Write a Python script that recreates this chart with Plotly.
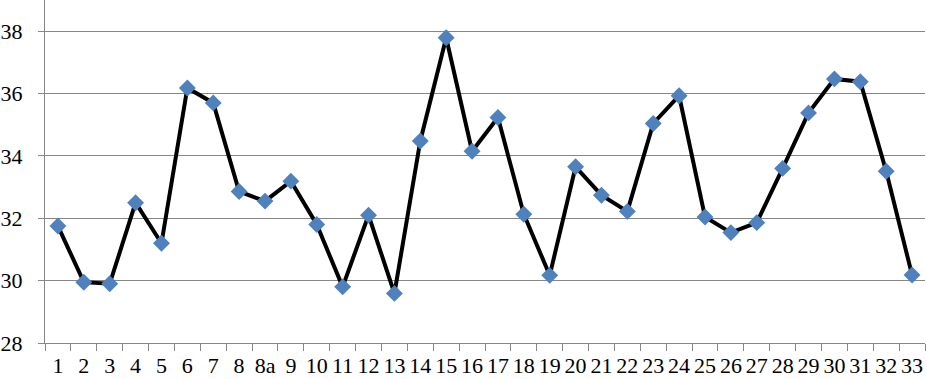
import plotly.graph_objects as go

categories = ["1", "2", "3", "4", "5", "6", "7", "8", "8a", "9", "10", "11", "12", "13", "14", "15", "16",
              "17", "18", "19", "20", "21", "22", "23", "24", "25", "26", "27", "28", "29", "30", "31", "32", "33"]
values = [31.75, 29.95, 29.9, 32.5, 31.2, 36.18, 35.7, 32.86, 32.55, 33.19, 31.8, 29.8, 32.1, 29.59, 34.48,
          37.79, 34.15, 35.23, 32.13, 30.17, 33.65, 32.74, 32.22, 35.04, 35.93, 32.04, 31.54, 31.86, 33.6,
          35.38, 36.47, 36.38, 33.51, 30.18]
y_ticks = [28, 30, 32, 34, 36, 38]

fig = go.Figure(go.Scatter(
    x=categories, y=values, mode="lines+markers",
    line=dict(color="black", width=4),
    marker=dict(symbol="diamond", size=13, color="#4F81BD", line=dict(width=0)),
    cliponaxis=False,
))

FAMILY = "Times New Roman, Liberation Serif, serif"
font = dict(family=FAMILY, size=22, color="black")
fig.update_layout(
    width=927, height=379,
    margin=dict(l=45, r=2, t=0, b=36),
    paper_bgcolor="white", plot_bgcolor="white",
    showlegend=False, font=font,
)
fig.update_xaxes(
    type="category", tickmode="array", tickvals=categories, ticktext=categories,
    tickson="boundaries", ticks="outside", ticklen=7, tickcolor="#868686",
    showline=True, linecolor="#868686", linewidth=1, showgrid=False, automargin=False,
    tickfont=font, tickangle=0, ticklabelstandoff=3, range=[-0.5, len(categories) - 0.5],
)
fig.update_yaxes(
    range=[28, 39], tickvals=y_ticks, ticks="outside", ticklen=6, tickcolor="#868686",
    showline=True, linecolor="#868686", linewidth=1, automargin=False,
    showgrid=True, gridcolor="#868686", gridwidth=1, zeroline=False,
    tickfont=font, ticklabelstandoff=11,
)
post = "document.body.style.margin='0';document.body.style.padding='0';"
fig.write_html("out.html", config={"displayModeBar": False}, post_script=post)
